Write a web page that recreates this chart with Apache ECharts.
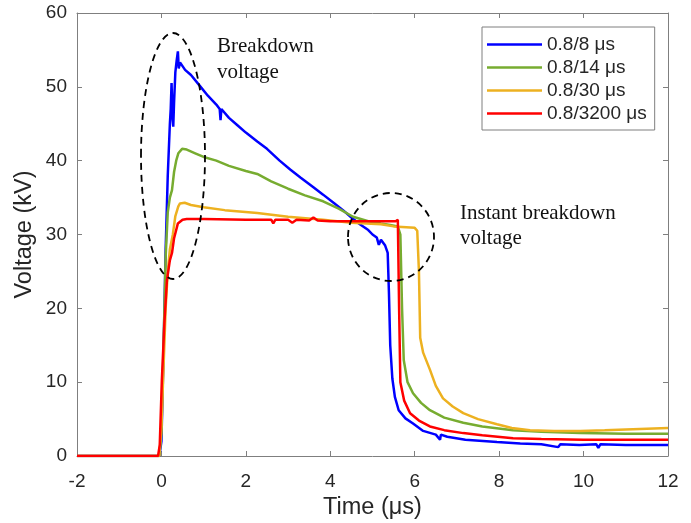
<!DOCTYPE html>
<html>
<head>
<meta charset="utf-8">
<script src="https://cdn.jsdelivr.net/npm/echarts@6/dist/echarts.min.js"></script>
<style>
  html, body { margin: 0; padding: 0; background: #fff; }
  #chart { width: 691px; height: 523px; }
</style>
</head>
<body>
<div id="chart"></div>
<script>
// time (µs) / voltage (kV) pairs
const seriesNames = ["0.8/8 μs", "0.8/14 μs", "0.8/30 μs", "0.8/3200 μs"]
const seriesColors = ["#0000ff", "#77ac30", "#edb120", "#ff0000"]

const wave8 = [
  [-2, 0], [-0.05, 0], [0, 2], [0.05, 14], [0.1, 28], [0.15, 38], [0.2, 45],
  [0.22, 47], [0.24, 50.5], [0.26, 46], [0.28, 44.6], [0.3, 48], [0.33, 52],
  [0.36, 53.5], [0.39, 54.8], [0.41, 52.5], [0.44, 53.3], [0.5, 52.8],
  [0.56, 52.3], [0.7, 51.6], [0.9, 50.2], [1.1, 48.8], [1.3, 47.6], [1.38, 47],
  [1.4, 45.5], [1.42, 47], [1.6, 45.8], [1.8, 44.8], [2.0, 43.8], [2.27, 42.6],
  [2.5, 41.6], [2.8, 40], [3.05, 38.8], [3.3, 37.7], [3.6, 36.4], [3.83, 35.4],
  [4.1, 34.2], [4.3, 33.3], [4.5, 32.3], [4.7, 31.4], [4.9, 30.6], [5.0, 30],
  [5.1, 29.6], [5.15, 28.6], [5.2, 29.3], [5.3, 28.5], [5.36, 27.5], [5.39, 22],
  [5.42, 15], [5.47, 10.5], [5.53, 8], [5.62, 6.2], [5.78, 5.1], [5.96, 4.4],
  [6.2, 3.4], [6.5, 2.9], [6.6, 2.2], [6.62, 2.9], [6.77, 2.6], [7.2, 2.2],
  [7.95, 1.9], [8.5, 1.7], [9.0, 1.6], [9.4, 1.2], [9.45, 1.6], [9.9, 1.5],
  [10.3, 1.6], [10.35, 1.1], [10.4, 1.6], [11, 1.5], [12, 1.5]
]

const wave14 = [
  [-2, 0], [-0.05, 0], [0, 3], [0.05, 15], [0.1, 27], [0.15, 33], [0.2, 35],
  [0.25, 36], [0.3, 38.5], [0.35, 40], [0.4, 41], [0.49, 41.6], [0.6, 41.5],
  [0.8, 41], [1.0, 40.5], [1.3, 40], [1.6, 39.3], [2.0, 38.6], [2.27, 38.2],
  [2.6, 37.2], [3.0, 36.2], [3.4, 35.3], [3.83, 34.5], [4.2, 33.5], [4.54, 32.4],
  [4.9, 31.8], [5.2, 31.5], [5.42, 31.3], [5.6, 31.1], [5.66, 30], [5.7, 20],
  [5.74, 13], [5.83, 10], [5.96, 8.5], [6.15, 7.2], [6.36, 6.2], [6.7, 5.2],
  [7.15, 4.5], [7.6, 4], [8.33, 3.5], [9, 3.3], [9.92, 3.1], [11, 3.0], [12, 3.0]
]

const wave30 = [
  [-2, 0], [-0.05, 0], [0, 4], [0.05, 12], [0.1, 20], [0.15, 25], [0.2, 28],
  [0.27, 30], [0.33, 32.5], [0.4, 33.8], [0.44, 34.2], [0.55, 34.3], [0.7, 34],
  [1.0, 33.7], [1.5, 33.3], [2.27, 32.9], [3.0, 32.4], [3.83, 32], [4.5, 31.6],
  [5.2, 31.4], [5.5, 31.1], [6.0, 30.9], [6.06, 30.5], [6.1, 25], [6.13, 16],
  [6.2, 14], [6.36, 11.7], [6.5, 9.5], [6.67, 7.8], [6.9, 6.7], [7.15, 5.8],
  [7.5, 5], [7.95, 4.3], [8.3, 3.8], [8.73, 3.5], [9.3, 3.4], [9.92, 3.4],
  [10.5, 3.5], [11, 3.6], [11.5, 3.7], [12, 3.8]
]

const wave3200 = [
  [-2, 0], [-0.08, 0], [-0.04, 1.5], [0.01, 10.3], [0.07, 18], [0.13, 23.8],
  [0.2, 26.5], [0.25, 27.5], [0.3, 29.5], [0.39, 31.5], [0.5, 32], [0.6, 32.1],
  [1, 32.1], [2, 32], [2.6, 32], [2.65, 31.5], [2.7, 32], [3, 32], [3.1, 31.6],
  [3.2, 32], [3.5, 31.9], [3.6, 32.3], [3.7, 31.9], [4, 31.8], [5, 31.8],
  [5.55, 31.8], [5.6, 32], [5.63, 20], [5.66, 10], [5.75, 7.5], [5.89, 5.8],
  [6.1, 4.8], [6.36, 4], [6.7, 3.5], [7.15, 3.1], [7.6, 2.8], [8.33, 2.4],
  [9, 2.3], [10, 2.2], [11, 2.2], [12, 2.2]
]

const waves = [wave8, wave14, wave30, wave3200]

const chart = echarts.init(document.getElementById("chart"))

const axisGray = "#7f7f7f"
const labelColor = "#262626"
const sans = "Liberation Sans, Arial, sans-serif"
const serif = "Liberation Serif, Times New Roman, serif"

const frameAxis = (extra) => ({
  type: "value",
  axisLine: { show: true, onZero: false, lineStyle: { color: axisGray, width: 1 } },
  axisTick: { show: true, inside: true, length: 5, lineStyle: { color: axisGray } },
  splitLine: { show: false },
  ...extra,
})

const option = {
  animation: false,
  backgroundColor: "#fff",
  grid: { left: 77, right: 23, top: 13, bottom: 67, containLabel: false, outerBoundsMode: "none" },
  legend: {
    orient: "vertical",
    left: 482,
    top: 27,
    padding: [8, 8, 7, 5],
    icon: "rect",
    itemWidth: 55,
    itemHeight: 2.5,
    itemGap: 4,
    backgroundColor: "#fff",
    borderColor: axisGray,
    borderWidth: 1,
    textStyle: { fontFamily: sans, fontSize: 19, color: labelColor, lineHeight: 19 },
    data: seriesNames,
  },
  xAxis: [
    frameAxis({
      min: -2,
      max: 12,
      interval: 2,
      name: "Time (μs)",
      nameLocation: "middle",
      nameGap: 40,
      nameMoveOverlap: false,
      nameTextStyle: { fontFamily: sans, fontSize: 23.5, color: labelColor },
      axisLabel: { fontFamily: sans, fontSize: 19, color: labelColor, margin: 16 },
    }),
    frameAxis({
      position: "top",
      min: -2,
      max: 12,
      interval: 2,
      axisLabel: { show: false },
    }),
  ],
  yAxis: [
    frameAxis({
      min: 0,
      max: 60,
      interval: 10,
      name: "Voltage (kV)",
      nameLocation: "middle",
      nameGap: 40,
      nameMoveOverlap: false,
      nameTextStyle: { fontFamily: sans, fontSize: 23.5, color: labelColor },
      axisLabel: { fontFamily: sans, fontSize: 19, color: labelColor, margin: 10 },
    }),
    frameAxis({
      position: "right",
      min: 0,
      max: 60,
      interval: 10,
      axisLabel: { show: false },
    }),
  ],
  series: waves.map((data, i) => ({
    name: seriesNames[i],
    type: "line",
    data: data,
    symbol: "none",
    color: seriesColors[i],
    lineStyle: { width: 2.5, color: seriesColors[i] },
    z: 2 + i,
  })),
  graphic: [
    {
      type: "ellipse",
      shape: { cx: 173, cy: 156, rx: 32, ry: 123 },
      style: { fill: "none", stroke: "#000", lineWidth: 1.8, lineDash: [7, 5] },
      z: 100,
    },
    {
      type: "ellipse",
      shape: { cx: 391, cy: 237, rx: 43, ry: 44 },
      style: { fill: "none", stroke: "#000", lineWidth: 1.8, lineDash: [7, 5] },
      z: 100,
    },
    {
      type: "text",
      left: 217,
      top: 33,
      style: { text: "Breakdown\nvoltage", font: "21px " + serif, fill: "#111", lineHeight: 26 },
      z: 100,
    },
    {
      type: "text",
      left: 460,
      top: 201,
      style: { text: "Instant breakdown\nvoltage", font: "21px " + serif, fill: "#111", lineHeight: 25 },
      z: 100,
    },
  ],
}

option && chart.setOption(option)
</script>
</body>
</html>
